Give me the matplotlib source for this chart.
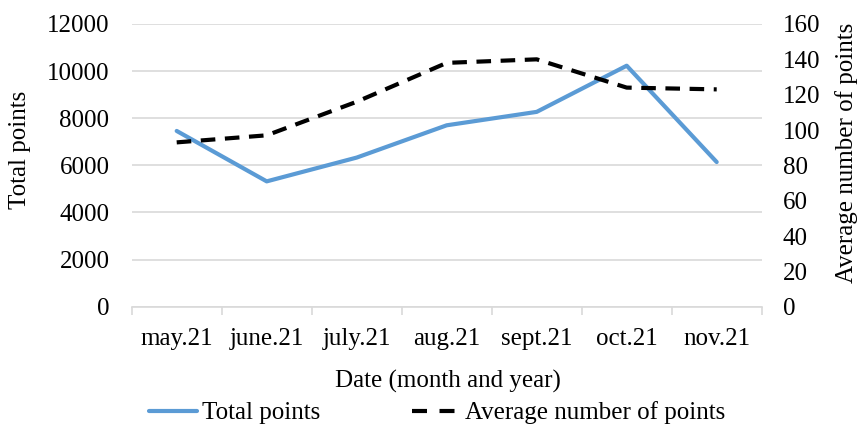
import matplotlib
matplotlib.use('Agg')
import matplotlib.pyplot as plt
from matplotlib.lines import Line2D
import numpy as np

plt.rcParams['font.family'] = ['Liberation Serif', 'DejaVu Serif']

# --- Data ---
months = ['may.21', 'june.21', 'july.21', 'aug.21', 'sept.21', 'oct.21', 'nov.21']
total_points = [7460, 5320, 6330, 7700, 8270, 10230, 6140]
avg_points = [93, 97, 116, 138, 140, 124, 123]

W, H = 858, 426
fig = plt.figure(figsize=(W / 100, H / 100), dpi=100)

# axes box in pixel coords of the reference
x0, x1, y_top, y_bot = 131.7, 761.7, 24, 306.7
ax = fig.add_axes([x0 / W, (H - y_bot) / H, (x1 - x0) / W, (y_bot - y_top) / H])
ax2 = ax.twinx()

grid_c = '#d9d9d9'
fs = 18

x = np.arange(len(months))
l1, = ax.plot(x, total_points, color='#5b9bd5', lw=3, solid_capstyle='round', zorder=3)
l2, = ax2.plot(x, avg_points, color='black', lw=3, linestyle=(0, (3.5, 2.3)), zorder=3)

ax.set_xlim(-0.5, len(months) - 0.5)
ax.set_ylim(0, 12000)
ax.set_yticks(np.arange(0, 12001, 2000))
ax2.set_ylim(0, 160)
ax2.set_yticks(np.arange(0, 161, 20))

ax.yaxis.grid(True, color=grid_c, lw=1.2)
ax.set_axisbelow(True)

for a in (ax, ax2):
    for s in ('top', 'left', 'right', 'bottom'):
        a.spines[s].set_visible(False)
ax.spines['bottom'].set_visible(True)
ax.spines['bottom'].set_color(grid_c)
ax.spines['bottom'].set_linewidth(1.2)

ax.set_xticks(x)
ax.set_xticklabels(months, fontsize=fs)
ax.set_xticks(np.arange(-0.5, len(months)), minor=True)
ax.tick_params(axis='x', which='major', length=0, pad=15)
ax.tick_params(axis='x', which='minor', length=6, width=1.2, color=grid_c)
ax.tick_params(axis='y', length=0, pad=16, labelsize=fs)
ax2.tick_params(axis='y', length=0, pad=15, labelsize=fs)

fig.text(448 / W, (H - 381) / H, 'Date (month and year)', fontsize=fs, ha='center', va='center')
fig.text(20 / W, (H - 150) / H, 'Total points', fontsize=fs, rotation=90, ha='center', va='center')
fig.text(847 / W, (H - 153) / H, 'Average number of points', fontsize=fs, rotation=90, ha='center', va='center')

# legend proxy for the dashed line so the key shows two dashes like the original
dash_key = Line2D([], [], color='black', lw=3, linestyle=(0, (3.6, 3.0)))
fig.legend([l1, dash_key], ['Total points', 'Average number of points'], loc='center',
           bbox_to_anchor=(437 / W, (H - 413) / H), ncol=2, frameon=False, fontsize=fs,
           handlelength=1.9, handletextpad=0.2, columnspacing=3.7, borderaxespad=0)

fig.savefig('out.png', dpi=100)
